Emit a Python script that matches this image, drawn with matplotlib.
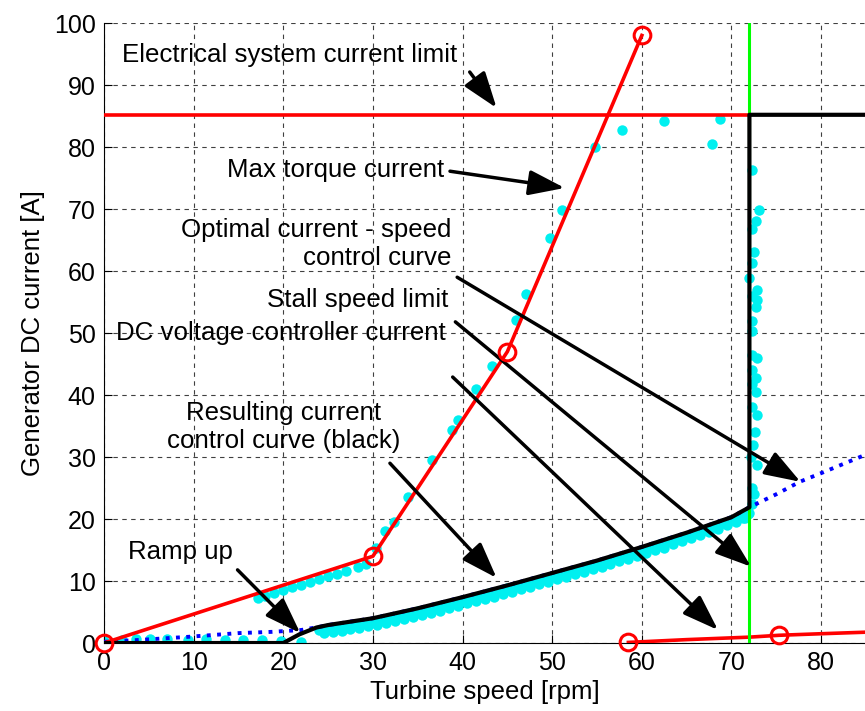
import matplotlib
matplotlib.use('Agg')
import matplotlib.pyplot as plt

plt.rcParams['font.family'] = ['Liberation Sans', 'DejaVu Sans']

# Optimal current - speed control curve (blue dotted)
speed_opt = [0, 4, 9.4, 15, 18.7, 22, 24, 25, 30, 35, 40, 45, 50, 55, 60, 65, 70, 72, 75, 77.6, 80, 85]
cur_opt = [0.2, 0.5, 1.0, 1.6, 1.8, 2.1, 2.6, 2.9, 4.0, 5.6, 7.4, 9.3, 11.3, 13.3, 15.5, 17.8, 20.3, 21.9, 24.0, 26.0, 27.4, 30.4]

# Resulting current control curve (black)
speed_res = [0, 20, 21.8, 23.7, 25, 30, 35, 40, 45, 50, 55, 60, 65, 70, 72, 72, 85]
cur_res = [0, 0, 1.4, 2.5, 2.9, 4.0, 5.6, 7.4, 9.3, 11.3, 13.3, 15.5, 17.8, 20.3, 21.9, 85.2, 85.2]

# Max torque current (red)
speed_max = [0, 30, 45, 60]
cur_max = [0, 14, 47, 98]

# Electrical system current limit
speed_lim = [0, 72]
cur_lim = [85.2, 85.2]

# Stall speed limit
stall_speed = 72

# DC voltage controller current
speed_dc = [58.5, 65, 72, 75.3, 80, 85]
cur_dc = [0.1, 0.55, 0.95, 1.25, 1.5, 1.75]
speed_dc_mark = [58.5, 75.3]
cur_dc_mark = [0.1, 1.25]

# Measured operating points (cyan)
meas_x = [0, 2, 3.6, 5.1, 7, 9.4, 11.4, 13.5, 15.5, 17.6, 19.8, 22,
          17.2, 18, 19, 20, 21, 22, 23, 24, 25, 26, 27, 28.3, 29.2,
          30.4, 31.4, 32.4, 33.9, 36.6, 38.8, 39.5, 41.5, 43.3, 46, 47.1, 49.8, 51.1, 54.8,
          57.8, 62.5, 68.7, 67.8,
          24, 25, 26, 27, 28, 29, 30, 31, 32, 33, 34, 35, 36, 37, 38, 39, 40, 41, 42, 43, 44, 45, 46, 47,
          48, 49, 50, 51, 52, 53, 54, 55, 56, 57, 58, 59, 60, 61, 62, 63, 64, 65, 66, 67, 68, 69, 70, 71,
          24.5, 25.5, 26.5, 27.5, 28.5, 29.5, 30.5, 31.5, 32.5, 33.5, 34.5, 35.5, 36.5, 37.5, 38.5, 39.5,
          40.5, 41.5, 42.5, 43.5, 44.5, 45.5, 46.5, 47.5, 48.5, 49.5, 50.5, 51.5, 52.5, 53.5, 54.5, 55.5,
          56.5, 57.5, 58.5, 59.5, 60.5, 61.5, 62.5, 63.5, 64.5, 65.5, 66.5, 67.5, 68.5, 69.5, 70.5, 71.5,
          71.3, 71.8, 72.0,
          72.3, 72.5, 72.3, 72.9, 72.2, 72.4, 72.6, 72.9, 72.3, 72.7, 72.3, 72.7, 72.3, 72.8, 72.3,
          72.3, 72.3, 72.7, 72.8, 72.3, 72.8, 71.9, 72.3, 72.5, 72.3, 72.7, 73.1, 72.3]
meas_y = [0.3, 0.5, 0.6, 0.6, 0.6, 0.5, 0.6, 0.5, 0.5, 0.5, 0.4, 0.2,
          7.3, 7.6, 8.1, 8.5, 9.0, 9.4, 9.9, 10.3, 10.8, 11.2, 11.6, 12.3, 12.8,
          15.3, 18.0, 19.6, 23.6, 29.5, 34.4, 36.0, 41.0, 44.7, 52.1, 56.3, 65.3, 69.8, 80.0,
          82.7, 84.2, 84.6, 80.5,
          2.1, 2.4, 2.6, 2.8, 3.0, 3.3, 3.5, 3.8, 4.1, 4.4, 4.8, 5.1, 5.4, 5.8, 6.1, 6.5, 6.9, 7.3, 7.6, 8.0,
          8.4, 8.8, 9.2, 9.6, 10.0, 10.4, 10.8, 11.2, 11.6, 12.0, 12.4, 12.8, 13.2, 13.7, 14.1, 14.6, 15.0,
          15.5, 15.9, 16.4, 16.8, 17.3, 17.8, 18.3, 18.9, 19.4, 19.9, 20.5,
          1.6, 1.8, 2.0, 2.2, 2.4, 2.7, 2.9, 3.2, 3.5, 3.9, 4.2, 4.5, 4.9, 5.2, 5.6, 6.0,
          6.4, 6.7, 7.1, 7.5, 7.9, 8.3, 8.7, 9.1, 9.5, 9.9, 10.3, 10.7, 11.1, 11.5, 11.9, 12.3,
          12.7, 13.2, 13.6, 14.1, 14.5, 15.0, 15.4, 15.9, 16.4, 16.9, 17.4, 17.9, 18.4, 19.0, 19.6, 20.2,
          20.1, 20.8, 21.0,
          22.5, 24.0, 25.0, 28.7, 30.0, 32.0, 34.0, 36.8, 38.0, 40.5, 41.7, 42.8, 44.1, 46.0, 46.4,
          50.3, 52.0, 54.2, 55.3, 55.9, 56.9, 58.8, 61.3, 63.0, 66.8, 68.0, 69.8, 76.3]

x_ticks = list(range(0, 90, 10))
y_ticks = list(range(0, 110, 10))

fig = plt.figure(figsize=(8.65, 7.11), dpi=100)
ax = fig.add_axes([0.1202, 0.0956, 0.8809, 0.872])

ax.plot(meas_x, meas_y, 'o', color='#00f0f0', markersize=7.5, markeredgewidth=0, zorder=2)
ax.plot(speed_opt, cur_opt, ':', color='#0000ff', linewidth=2.8, zorder=3)
ax.plot(speed_max, cur_max, '-', color='#ff0000', linewidth=2.6, zorder=4)
ax.plot(speed_max, cur_max, 'o', color='#ff0000', markersize=12, markerfacecolor='none',
        markeredgewidth=2.2, zorder=9, clip_on=False)
ax.plot(speed_lim, cur_lim, '-', color='#ff0000', linewidth=2.6, zorder=4)
ax.plot(speed_dc, cur_dc, '-', color='#ff0000', linewidth=2.6, zorder=4)
ax.plot(speed_dc_mark, cur_dc_mark, 'o', color='#ff0000', markersize=12, markerfacecolor='none',
        markeredgewidth=2.2, zorder=9, clip_on=False)
ax.axvline(stall_speed, color='#00ff00', linewidth=2.2, zorder=5)
ax.plot(speed_res, cur_res, '-', color='black', linewidth=3.0, zorder=6)

# annotations: (text, text pos, ha, arrow start, arrow tip)
notes = [
    ('Electrical system current limit', (2.0, 94.8), 'left', (40.8, 92.1), (43.8, 86.3)),
    ('Max torque current', (38.0, 76.3), 'right', (38.6, 76.1), (51.4, 73.4)),
    ('Optimal current - speed\ncontrol curve', (38.8, 64.4), 'right', (39.4, 59.0), (77.7, 26.0)),
    ('Stall speed limit', (38.4, 55.3), 'right', (39.2, 51.8), (72.2, 12.3)),
    ('DC voltage controller current', (38.1, 50.0), 'right', (38.9, 42.9), (68.5, 2.1)),
    ('Resulting current\ncontrol curve (black)', (20.0, 34.8), 'center', (31.9, 29.0), (43.8, 10.5)),
    ('Ramp up', (2.7, 14.7), 'left', (14.9, 11.8), (21.9, 1.6)),
]
for txt, pos, ha, start, tip in notes:
    ax.text(pos[0], pos[1], txt, ha=ha, va='center', multialignment=ha,
            fontsize=18.6, linespacing=1.2, zorder=8)
    ax.annotate('', xy=tip, xytext=start,
                arrowprops=dict(arrowstyle='-|>,head_length=1.0,head_width=0.35',
                                color='black', lw=2.5, mutation_scale=22,
                                shrinkA=0, shrinkB=0),
                zorder=7, annotation_clip=False)

ax.set_xlim(0, 85)
ax.set_ylim(0, 100)
ax.set_xticks(x_ticks)
ax.set_yticks(y_ticks)
ax.tick_params(direction='in', length=6, width=0.8, labelsize=18, pad=6)
ax.grid(True, linestyle=(0, (4, 4)), color='0.25', linewidth=0.8)
ax.set_axisbelow(True)
ax.spines['top'].set_visible(False)
ax.spines['right'].set_visible(False)

ax.set_xlabel('Turbine speed [rpm]', fontsize=18.5, labelpad=3)
ax.set_ylabel('Generator DC current [A]', fontsize=18.5, labelpad=6)

fig.savefig('out.png', dpi=100)
